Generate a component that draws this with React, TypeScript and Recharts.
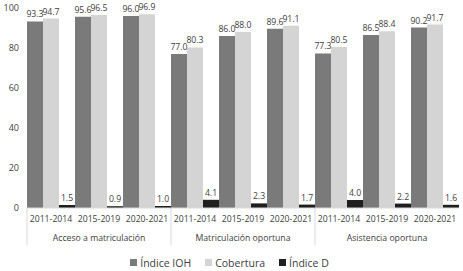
import React from "react";
import { BarChart, Bar, XAxis, YAxis, Legend, LabelList } from "recharts";

const groups = ["Acceso a matriculación", "Matriculación oportuna", "Asistencia oportuna"];
const periods = ["2011-2014", "2015-2019", "2020-2021"];
const indiceIOH = [93.3, 95.6, 96.0, 77.0, 86.0, 89.6, 77.3, 86.5, 90.2];
const cobertura = [94.7, 96.5, 96.9, 80.3, 88.0, 91.1, 80.5, 88.4, 91.7];
const indiceD = [1.5, 0.9, 1.0, 4.1, 2.3, 1.7, 4.0, 2.2, 1.6];
const yTicks = [0, 20, 40, 60, 80, 100];

const seriesNames = ["Índice IOH", "Cobertura", "Índice D"];
const seriesColors = ["#7a7a7a", "#d4d4d4", "#1f1f1f"];

const data = indiceIOH.map((v, i) => ({
  period: periods[i % 3],
  group: groups[Math.floor(i / 3)],
  ioh: v,
  cob: cobertura[i],
  d: indiceD[i],
}));

const FONT = "'Open Sans', sans-serif";
const TEXT = "#404040";
const SEP = "#d9d9d9";

function PeriodTick(props: any) {
  const { x, y, payload, index } = props;
  const off = payload && typeof payload.offset === "number" && payload.offset > 0 ? payload.offset : 24;
  const axisY = y - 8;
  const g = Math.floor(index / 3);
  return (
    <g>
      <text x={x} y={y} dy="0.71em" textAnchor="middle" fontSize={8.7} fill={TEXT} fontFamily={FONT}>
        {payload.value}
      </text>
      {index % 3 === 0 && (
        <line x1={x - off} x2={x - off} y1={axisY} y2={axisY + 37} stroke={SEP} strokeWidth={1} />
      )}
      {index % 3 === 1 && (
        <text x={x} y={y + 19} dy="0.71em" textAnchor="middle" fontSize={8.7} fill={TEXT} fontFamily={FONT}>
          {groups[g]}
        </text>
      )}
    </g>
  );
}

function LegendContent() {
  return (
    <div
      style={{
        height: 21,
        boxSizing: "border-box",
        paddingTop: 4,
        display: "flex",
        justifyContent: "center",
        alignItems: "center",
        fontFamily: FONT,
        fontSize: 10.5,
        color: TEXT,
      }}
    >
      {seriesNames.map((n, i) => (
        <span key={n} style={{ display: "inline-flex", alignItems: "center", marginLeft: i === 0 ? 0 : 14 }}>
          <span style={{ width: 7, height: 7, background: seriesColors[i], display: "inline-block", marginRight: 3 }} />
          {n}
        </span>
      ))}
    </div>
  );
}

const fmt = (v: any) => Number(v).toFixed(1);

export default function App() {
  return (
    <div style={{ position: "absolute", left: 0, top: 0, fontFamily: FONT }}>
      <BarChart
        width={463}
        height={271}
        data={data}
        margin={{ top: 8, right: 4, left: 0, bottom: 0 }}
        barCategoryGap={0}
        barGap={0}
      >
        <XAxis
          dataKey="period"
          interval={0}
          tickLine={false}
          axisLine={{ stroke: SEP }}
          height={42}
          tick={<PeriodTick />}
        />
        <YAxis
          width={27}
          domain={[0, 100]}
          ticks={yTicks}
          axisLine={false}
          tickLine={false}
          tick={{ fontSize: 9, fill: TEXT, fontFamily: FONT }}
        />
        <Legend verticalAlign="bottom" content={<LegendContent />} />
        <Bar dataKey="ioh" name={seriesNames[0]} fill={seriesColors[0]} isAnimationActive={false}>
          <LabelList dataKey="ioh" position="top" offset={4} formatter={fmt} fontSize={8.7} fill={TEXT} fontFamily={FONT} />
        </Bar>
        <Bar dataKey="cob" name={seriesNames[1]} fill={seriesColors[1]} isAnimationActive={false}>
          <LabelList dataKey="cob" position="top" offset={4} formatter={fmt} fontSize={8.7} fill={TEXT} fontFamily={FONT} />
        </Bar>
        <Bar dataKey="d" name={seriesNames[2]} fill={seriesColors[2]} isAnimationActive={false}>
          <LabelList dataKey="d" position="top" offset={4} formatter={fmt} fontSize={8.7} fill={TEXT} fontFamily={FONT} />
        </Bar>
      </BarChart>
    </div>
  );
}
